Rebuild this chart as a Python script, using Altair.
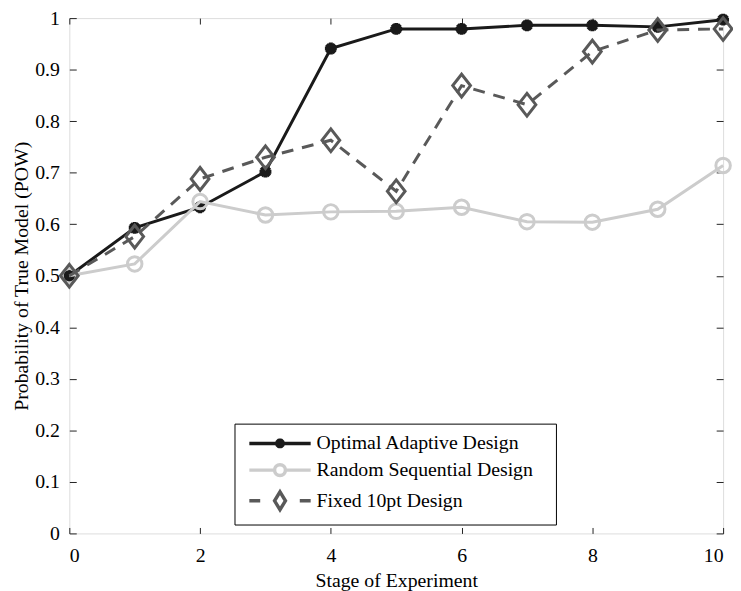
import altair as alt
import pandas as pd

stages = list(range(11))
optimal = [0.500, 0.593, 0.633, 0.702, 0.941, 0.979, 0.979, 0.986, 0.986, 0.983, 0.997]
random_seq = [0.500, 0.523, 0.644, 0.618, 0.624, 0.625, 0.633, 0.605, 0.604, 0.629, 0.714]
fixed = [0.500, 0.576, 0.688, 0.730, 0.763, 0.664, 0.869, 0.832, 0.935, 0.977, 0.979]
series_names = ["Optimal Adaptive Design", "Random Sequential Design", "Fixed 10pt Design"]
colors = ["#1a1a1a", "#cccccc", "#595959"]
x_ticks = [0, 2, 4, 6, 8, 10]
y_ticks = [0, 0.1, 0.2, 0.3, 0.4, 0.5, 0.6, 0.7, 0.8, 0.9, 1.0]

rows = []
for name, vals in zip(series_names, [optimal, random_seq, fixed]):
    for s, v in zip(stages, vals):
        rows.append({"stage": s, "pow": v, "series": name})
df = pd.DataFrame(rows)

FONT = "Liberation Serif"
xs = alt.Scale(domain=[0, 10], nice=False)
ys = alt.Scale(domain=[0, 1], nice=False)

ASTER = "M-1,0L1,0M0,-1L0,1M-0.71,-0.71L0.71,0.71M-0.71,0.71L0.71,-0.71"
DIAM = "M0,-1L0.78,0L0,1L-0.78,0Z"

LEG_OPT = ("M-3.1,0L3.1,0M-0.5,0L0.5,0M0,-0.5L0,0.5"
           "M-0.35,-0.35L0.35,0.35M-0.35,0.35L0.35,-0.35")
LEG_RND = ("M-3.1,0L-0.55,0M0.55,0L3.1,0"
           "M0.55,0A0.55,0.55 0 1,1 -0.55,0A0.55,0.55 0 1,1 0.55,0")
LEG_FIX = "M-3.1,0L-2,0M2,0L3.1,0M0,-0.9L0.55,0L0,0.9L-0.55,0Z"

axis_common = dict(domain=False, grid=False, tickColor="#222222", tickWidth=1,
                   labelFont=FONT, labelFontSize=20, labelColor="black",
                   titleFont=FONT, titleFontSize=20, titleColor="black",
                   titleFontWeight="normal")

ax_bottom = alt.Axis(orient="bottom", values=x_ticks, offset=-6, tickSize=6,
                     labelPadding=12, title="Stage of Experiment", titlePadding=6,
                     **axis_common)
ax_left = alt.Axis(orient="left", values=y_ticks, format=".1~f", offset=-7, tickSize=7,
                   labelPadding=10, title="Probability of True Model (POW)",
                   titlePadding=3, **axis_common)
ax_top = alt.Axis(orient="top", values=x_ticks, offset=-6, tickSize=6, labels=False,
                  title=None, domain=False, grid=False, tickColor="#222222", tickWidth=1)
ax_right = alt.Axis(orient="right", values=y_ticks, offset=-7, tickSize=7, labels=False,
                    title=None, domain=False, grid=False, tickColor="#222222", tickWidth=1)

base = alt.Chart(df)


def sel(name):
    return base.transform_filter(alt.datum.series == name)


layers = []
styles = [
    (series_names[0], colors[0], None, ASTER, 144, 4),
    (series_names[1], colors[1], None, "circle", 215, 3),
    (series_names[2], colors[2], [12, 9], DIAM, 529, 3),
]
first = True
for name, col, dash, shp, sz, sw in styles:
    line_kw = dict(color=col, strokeWidth=3)
    if dash:
        line_kw["strokeDash"] = dash
    if first:
        xa, ya = ax_bottom, ax_left
    else:
        xa, ya = None, None
    line = sel(name).mark_line(**line_kw).encode(
        x=alt.X("stage:Q", scale=xs, axis=xa),
        y=alt.Y("pow:Q", scale=ys, axis=ya),
    )
    if first:
        pxa, pya = ax_top, ax_right
    else:
        pxa, pya = None, None
    pts = sel(name).mark_point(shape=shp, size=sz, filled=False, stroke=col,
                               strokeWidth=sw, opacity=1).encode(
        x=alt.X("stage:Q", scale=xs, axis=pxa),
        y=alt.Y("pow:Q", scale=ys, axis=pya),
    )
    layers += [line, pts]
    first = False

legend_layer = base.transform_filter(alt.datum.stage < 0).mark_point(
    filled=False, strokeWidth=3, opacity=1).encode(
    x=alt.X("stage:Q", scale=xs, axis=None),
    y=alt.Y("pow:Q", scale=ys, axis=None),
    color=alt.Color("series:N", scale=alt.Scale(domain=series_names, range=colors),
                    legend=alt.Legend(orient="none", legendX=167, legendY=410, title=None,
                                      symbolSize=400, symbolStrokeWidth=3.5, symbolOpacity=1,
                                      symbolOffset=26, labelOffset=25, labelLimit=0,
                                      labelExpr="datum.label + '\u2800'",
                                      labelFont=FONT, labelFontSize=20, labelColor="black",
                                      padding=8, rowPadding=2, strokeColor="black",
                                      fillColor="white")),
    shape=alt.Shape("series:N", scale=alt.Scale(domain=series_names,
                                                range=[LEG_OPT, LEG_RND, LEG_FIX])),
)
layers.append(legend_layer)

chart = alt.layer(*layers).resolve_axis(x="independent", y="independent").properties(
    width=661, height=521,
    autosize=alt.AutoSizeParams(type="none"),
    padding={"left": 62, "top": 7, "right": 10, "bottom": 56},
).configure_view(stroke="#222222", strokeWidth=2).configure(font=FONT, background="white")

chart.save("out.html", embed_options={"renderer": "svg", "actions": False})
